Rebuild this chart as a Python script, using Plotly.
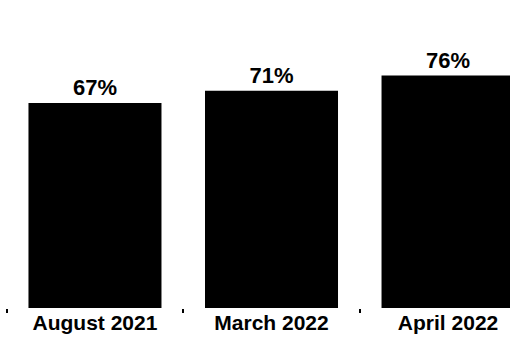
import plotly.graph_objects as go

# Share of respondents per survey wave
periods = ["August 2021", "March 2022", "April 2022"]
shares = [67, 71, 76]

fig = go.Figure(
    go.Bar(
        x=periods,
        y=shares,
        marker=dict(color="black", line=dict(width=0)),
        width=0.7535,
        texttemplate="%{y}%",
        textposition="outside",
        cliponaxis=False,
        textfont=dict(family="Liberation Sans", size=22, color="black", weight="bold"),
    )
)

fig.update_layout(
    width=510,
    height=343,
    margin=dict(l=0, r=0, t=0, b=35),
    paper_bgcolor="white",
    plot_bgcolor="white",
    showlegend=False,
    font=dict(family="Liberation Sans", color="black"),
    xaxis=dict(
        type="category",
        range=[-0.538, 2.351],
        showgrid=False,
        showline=False,
        zeroline=False,
        tickson="boundaries",
        ticks="outside",
        ticklen=4,
        tickwidth=2,
        tickcolor="black",
        tickfont=dict(family="Liberation Sans", size=21, color="black", weight="bold"),
    ),
    yaxis=dict(
        range=[0, 100.7],
        visible=False,
    ),
)

fig.write_html("out.html")
